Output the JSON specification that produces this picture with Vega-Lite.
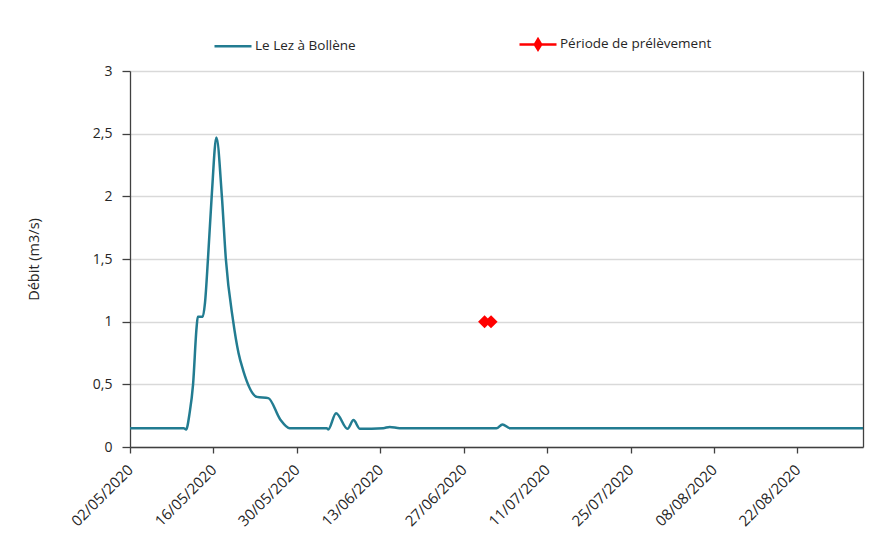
{
  "$schema": "https://vega.github.io/schema/vega-lite/v6.json",
  "width": 733,
  "height": 376,
  "autosize": {"type": "none"},
  "padding": {"left": 130, "top": 71, "right": 15, "bottom": 107},
  "background": "white",
  "config": {
    "view": {"stroke": null},
    "font": "Open Sans",
    "axis": {"labelFont": "Open Sans", "titleFont": "Open Sans", "labelColor": "#262626", "titleColor": "#262626"}
  },
  "datasets": {
    "debit": [
      {"date": "2020-05-02T00:00", "debit": 0.15, "serie": "Le Lez à Bollène"},
      {"date": "2020-05-11T00:00", "debit": 0.15, "serie": "Le Lez à Bollène"},
      {"date": "2020-05-11T10:00", "debit": 0.14, "serie": "Le Lez à Bollène"},
      {"date": "2020-05-12T00:00", "debit": 0.27, "serie": "Le Lez à Bollène"},
      {"date": "2020-05-12T14:00", "debit": 0.5, "serie": "Le Lez à Bollène"},
      {"date": "2020-05-13T04:00", "debit": 0.95, "serie": "Le Lez à Bollène"},
      {"date": "2020-05-13T09:00", "debit": 1.04, "serie": "Le Lez à Bollène"},
      {"date": "2020-05-14T05:00", "debit": 1.04, "serie": "Le Lez à Bollène"},
      {"date": "2020-05-14T14:00", "debit": 1.15, "serie": "Le Lez à Bollène"},
      {"date": "2020-05-15T02:00", "debit": 1.5, "serie": "Le Lez à Bollène"},
      {"date": "2020-05-15T17:00", "debit": 2.0, "serie": "Le Lez à Bollène"},
      {"date": "2020-05-16T12:00", "debit": 2.47, "serie": "Le Lez à Bollène"},
      {"date": "2020-05-17T10:00", "debit": 2.0, "serie": "Le Lez à Bollène"},
      {"date": "2020-05-18T02:00", "debit": 1.5, "serie": "Le Lez à Bollène"},
      {"date": "2020-05-19T07:00", "debit": 1.01, "serie": "Le Lez à Bollène"},
      {"date": "2020-05-20T05:00", "debit": 0.75, "serie": "Le Lez à Bollène"},
      {"date": "2020-05-21T00:00", "debit": 0.61, "serie": "Le Lez à Bollène"},
      {"date": "2020-05-23T07:00", "debit": 0.4, "serie": "Le Lez à Bollène"},
      {"date": "2020-05-25T05:00", "debit": 0.39, "serie": "Le Lez à Bollène"},
      {"date": "2020-05-27T05:00", "debit": 0.22, "serie": "Le Lez à Bollène"},
      {"date": "2020-05-28T19:00", "debit": 0.15, "serie": "Le Lez à Bollène"},
      {"date": "2020-06-04T00:00", "debit": 0.15, "serie": "Le Lez à Bollène"},
      {"date": "2020-06-04T06:00", "debit": 0.14, "serie": "Le Lez à Bollène"},
      {"date": "2020-06-05T14:00", "debit": 0.27, "serie": "Le Lez à Bollène"},
      {"date": "2020-06-07T12:00", "debit": 0.145, "serie": "Le Lez à Bollène"},
      {"date": "2020-06-08T12:00", "debit": 0.215, "serie": "Le Lez à Bollène"},
      {"date": "2020-06-09T14:00", "debit": 0.145, "serie": "Le Lez à Bollène"},
      {"date": "2020-06-13T12:00", "debit": 0.15, "serie": "Le Lez à Bollène"},
      {"date": "2020-06-14T14:00", "debit": 0.16, "serie": "Le Lez à Bollène"},
      {"date": "2020-06-16T06:00", "debit": 0.15, "serie": "Le Lez à Bollène"},
      {"date": "2020-07-02T12:00", "debit": 0.15, "serie": "Le Lez à Bollène"},
      {"date": "2020-07-03T12:00", "debit": 0.18, "serie": "Le Lez à Bollène"},
      {"date": "2020-07-04T18:00", "debit": 0.15, "serie": "Le Lez à Bollène"},
      {"date": "2020-09-02T00:00", "debit": 0.15, "serie": "Le Lez à Bollène"}
    ],
    "prelevement": [
      {"date": "2020-06-30T12:00", "debit": 1.0, "serie": "Période de prélèvement"},
      {"date": "2020-07-01T14:00", "debit": 1.0, "serie": "Période de prélèvement"}
    ]
  },
  "resolve": {"axis": {"y": "independent"}},
  "layer": [
    {
      "data": {"name": "debit"},
      "mark": {"type": "line", "interpolate": "monotone", "strokeWidth": 2.5},
      "encoding": {
        "x": {
          "field": "date",
          "type": "temporal",
          "scale": {"domain": [{"year": 2020, "month": 5, "date": 2}, {"year": 2020, "month": 9, "date": 2}]},
          "axis": {
            "title": null,
            "grid": false,
            "values": [
              {"year": 2020, "month": 5, "date": 2},
              {"year": 2020, "month": 5, "date": 16},
              {"year": 2020, "month": 5, "date": 30},
              {"year": 2020, "month": 6, "date": 13},
              {"year": 2020, "month": 6, "date": 27},
              {"year": 2020, "month": 7, "date": 11},
              {"year": 2020, "month": 7, "date": 25},
              {"year": 2020, "month": 8, "date": 8},
              {"year": 2020, "month": 8, "date": 22}
            ],
            "format": "%d/%m/%Y",
            "labelAngle": -45,
            "labelAlign": "right",
            "labelBaseline": "middle",
            "labelFontSize": 15,
            "labelPadding": 14,
            "labelOverlap": false,
            "domainColor": "#404040",
            "domainWidth": 1.3,
            "tickColor": "#404040",
            "tickSize": 6,
            "tickWidth": 1.3
          }
        },
        "y": {
          "field": "debit",
          "type": "quantitative",
          "scale": {"domain": [0, 3]},
          "axis": {
            "title": "Débit (m3/s)",
            "titleFontSize": 14.5,
            "titleFontWeight": "normal",
            "titlePadding": 51,
            "values": [0, 0.5, 1, 1.5, 2, 2.5, 3],
            "format": "~g",
            "labelExpr": "replace(datum.label, '.', ',')",
            "labelFontSize": 14,
            "labelPadding": 10,
            "gridColor": "#d9d9d9",
            "gridWidth": 1.5,
            "domainColor": "#404040",
            "domainWidth": 1.3,
            "tickColor": "#404040",
            "tickSize": 8,
            "tickWidth": 1.3
          }
        },
        "color": {
          "field": "serie",
          "type": "nominal",
          "scale": {"domain": ["Le Lez à Bollène", "Période de prélèvement"], "range": ["#227C91", "#FF0000"]},
          "legend": {
            "title": null,
            "orient": "none",
            "legendX": 83,
            "legendY": -47,
            "direction": "horizontal",
            "symbolType": "stroke",
            "symbolSize": 1369,
            "symbolStrokeWidth": 2.5,
            "labelFontSize": 13.5,
            "labelColor": "#262626",
            "labelOffset": 2,
            "columnPadding": 158,
            "encode": {
              "symbols": {
                "update": {
                  "shape": {"signal": "datum.value === 'Période de prélèvement' ? 'M-1,0H1M0,-0.28L0.17,0L0,0.28L-0.17,0Z' : 'stroke'"},
                  "fill": {"signal": "datum.value === 'Période de prélèvement' ? '#FF0000' : 'transparent'"}
                }
              }
            }
          }
        }
      }
    },
    {
      "data": {"name": "prelevement"},
      "mark": {"type": "line", "strokeWidth": 2.5, "point": {"shape": "diamond", "size": 170, "filled": true, "opacity": 1}},
      "encoding": {
        "x": {"field": "date", "type": "temporal"},
        "y": {
          "field": "debit",
          "type": "quantitative",
          "axis": {
            "orient": "right",
            "title": null,
            "labels": false,
            "ticks": false,
            "grid": false,
            "domainColor": "#404040",
            "domainWidth": 1.3
          }
        },
        "color": {"field": "serie", "type": "nominal"}
      }
    }
  ]
}
